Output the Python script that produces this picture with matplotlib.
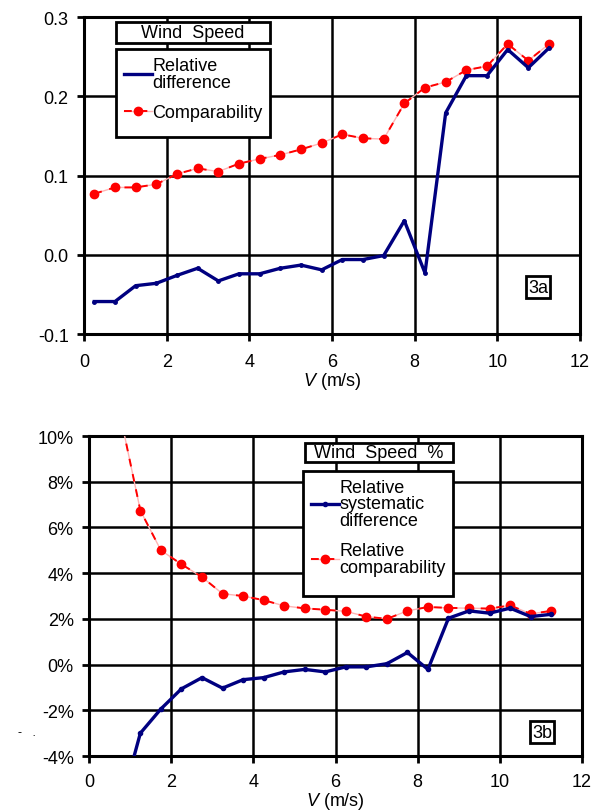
import matplotlib
matplotlib.use("Agg")
import matplotlib.pyplot as plt
from matplotlib.lines import Line2D
from matplotlib.patches import Rectangle
from matplotlib.ticker import FormatStrFormatter, PercentFormatter, MultipleLocator

plt.rcParams["font.family"] = ["Liberation Sans", "DejaVu Sans"]
plt.rcParams["axes.unicode_minus"] = False
plt.rcParams["mathtext.fontset"] = "custom"
plt.rcParams["mathtext.it"] = "Liberation Sans:italic"
plt.rcParams["mathtext.rm"] = "Liberation Sans"

# --- panel 3a: wind speed, absolute ---
v_a = [0.25, 0.75, 1.25, 1.75, 2.25, 2.75, 3.25, 3.75, 4.25, 4.75, 5.25, 5.75,
       6.25, 6.75, 7.25, 7.75, 8.25, 8.75, 9.25, 9.75, 10.25, 10.75, 11.25]
diff_a = [-0.059, -0.059, -0.039, -0.036, -0.026, -0.017, -0.033, -0.024, -0.024,
          -0.017, -0.013, -0.019, -0.006, -0.006, -0.001, 0.043, -0.023,
          0.179, 0.226, 0.226, 0.259, 0.236, 0.261]
comp_a = [0.077, 0.085, 0.085, 0.089, 0.102, 0.109, 0.105, 0.115, 0.121, 0.126,
          0.133, 0.141, 0.152, 0.147, 0.146, 0.191, 0.211, 0.218, 0.233, 0.238,
          0.266, 0.245, 0.266]

# --- panel 3b: wind speed, relative (fractions) ---
v_b = [0.75, 1.25, 1.75, 2.25, 2.75, 3.25, 3.75, 4.25, 4.75, 5.25, 5.75,
       6.25, 6.75, 7.25, 7.75, 8.25, 8.75, 9.25, 9.75, 10.25, 10.75, 11.25]
diff_b = [-0.063, -0.030, -0.0194, -0.0106, -0.0057, -0.0103, -0.0066, -0.0057,
          -0.0032, -0.0021, -0.0032, -0.0010, -0.0010, 0.0004, 0.0053, -0.0021,
          0.0203, 0.0235, 0.0225, 0.0247, 0.0210, 0.0220]
comp_b = [0.110, 0.0674, 0.0500, 0.0439, 0.0383, 0.0310, 0.0300, 0.0282, 0.0257,
          0.0246, 0.0240, 0.0233, 0.0210, 0.0200, 0.0235, 0.0252, 0.0248, 0.0247,
          0.0245, 0.0259, 0.0222, 0.0235]

NAVY = "#000080"
RED = "#ff0000"
PINK = "#ffb4b4"
FS = 13


def comp_line(ax, x, y):
    ax.plot(x, y, color=PINK, lw=1.0, zorder=3)
    ax.plot(x, y, color=RED, lw=1.4, ls=(0, (4, 4)), marker="o", ms=6,
            mec=RED, mfc=RED, zorder=4)


def style_axes(ax, xpad):
    ax.grid(True, color="black", lw=1.8)
    ax.set_axisbelow(True)
    for s in ax.spines.values():
        s.set_linewidth(2.2)
    ax.set_xlim(0, 12)
    ax.xaxis.set_major_locator(MultipleLocator(2))
    ax.tick_params(direction="out", length=5, width=2, labelsize=FS)
    ax.tick_params(axis="x", pad=xpad)
    ax.tick_params(axis="y", pad=6)
    ax.set_xlabel(r"$V$ (m/s)", fontsize=FS, labelpad=0)


def box(ax, x0, y0, x1, y1):
    ax.add_patch(Rectangle((x0, y0), x1 - x0, y1 - y0, transform=ax.transAxes,
                           fc="white", ec="black", lw=2, zorder=6))


def title_box(ax, x0, y0, x1, y1, s):
    box(ax, x0, y0, x1, y1)
    ax.text((x0 + x1) / 2, (y0 + y1) / 2, s, transform=ax.transAxes,
            ha="center", va="center", fontsize=FS, zorder=7)


def tag(ax, x, y, s):
    ax.text(x, y, s, transform=ax.transAxes, ha="center", va="center",
            fontsize=FS, zorder=6,
            bbox=dict(boxstyle="square,pad=0.12", fc="white", ec="black", lw=2))


def make_legend(ax, handles, labels, frame):
    x0, y0, x1, y1 = frame
    box(ax, x0, y0, x1, y1)
    leg = ax.legend(handles, labels, loc="upper left", bbox_to_anchor=(x0, y1),
                    fontsize=FS, frameon=False,
                    handlelength=1.55, handletextpad=0.0, borderpad=0.45,
                    labelspacing=0.75, borderaxespad=0)
    for t in leg.get_texts():
        t.set_linespacing(0.95)
    leg.set_zorder(7)
    return leg


fig = plt.figure(figsize=(5.91, 8.12), dpi=100)

# panel 3a
ax1 = fig.add_axes((0.1421, 0.5874, 0.8393, 0.3904))
ax1.plot(v_a, diff_a, color=NAVY, lw=2.4, marker="o", ms=2.5, zorder=5)
comp_line(ax1, v_a, comp_a)
ax1.set_ylim(-0.1, 0.3)
ax1.yaxis.set_major_locator(MultipleLocator(0.1))
ax1.yaxis.set_major_formatter(FormatStrFormatter("%.1f"))
style_axes(ax1, 9)

h_blue = Line2D([], [], color=NAVY, lw=2.4)
h_red = (Line2D([], [], color=PINK, lw=1.0),
         Line2D([], [], color=RED, lw=1.4, ls=(0, (4, 4)), marker="o", ms=6))
make_legend(ax1, [h_blue, h_red], ["Relative\ndifference", "Comparability"],
            (0.0645, 0.621, 0.375, 0.899))
title_box(ax1, 0.0645, 0.918, 0.375, 0.984, "Wind  Speed")
tag(ax1, 0.915, 0.148, "3a")

# panel 3b
ax2 = fig.add_axes((0.1506, 0.0677, 0.8342, 0.3941))
ax2.plot(v_b, diff_b, color=NAVY, lw=2.4, marker="o", ms=3, zorder=5)
comp_line(ax2, v_b, comp_b)
ax2.set_ylim(-0.04, 0.10)
ax2.yaxis.set_major_locator(MultipleLocator(0.02))
ax2.yaxis.set_major_formatter(PercentFormatter(xmax=1, decimals=0))
style_axes(ax2, 7)

h_blue2 = Line2D([], [], color=NAVY, lw=2.4, marker="o", ms=3)
make_legend(ax2, [h_blue2, h_red],
            ["Relative\nsystematic\ndifference", "Relative\ncomparability"],
            (0.434, 0.5, 0.738, 0.891))
title_box(ax2, 0.438, 0.919, 0.738, 0.978, "Wind  Speed  %")
tag(ax2, 0.919, 0.075, "3b")

# clipped axis-label remnant at the left edge of panel 3b
fig.text(0.03, 0.093, "-   .", fontsize=9)

fig.savefig("out.png", dpi=100)
